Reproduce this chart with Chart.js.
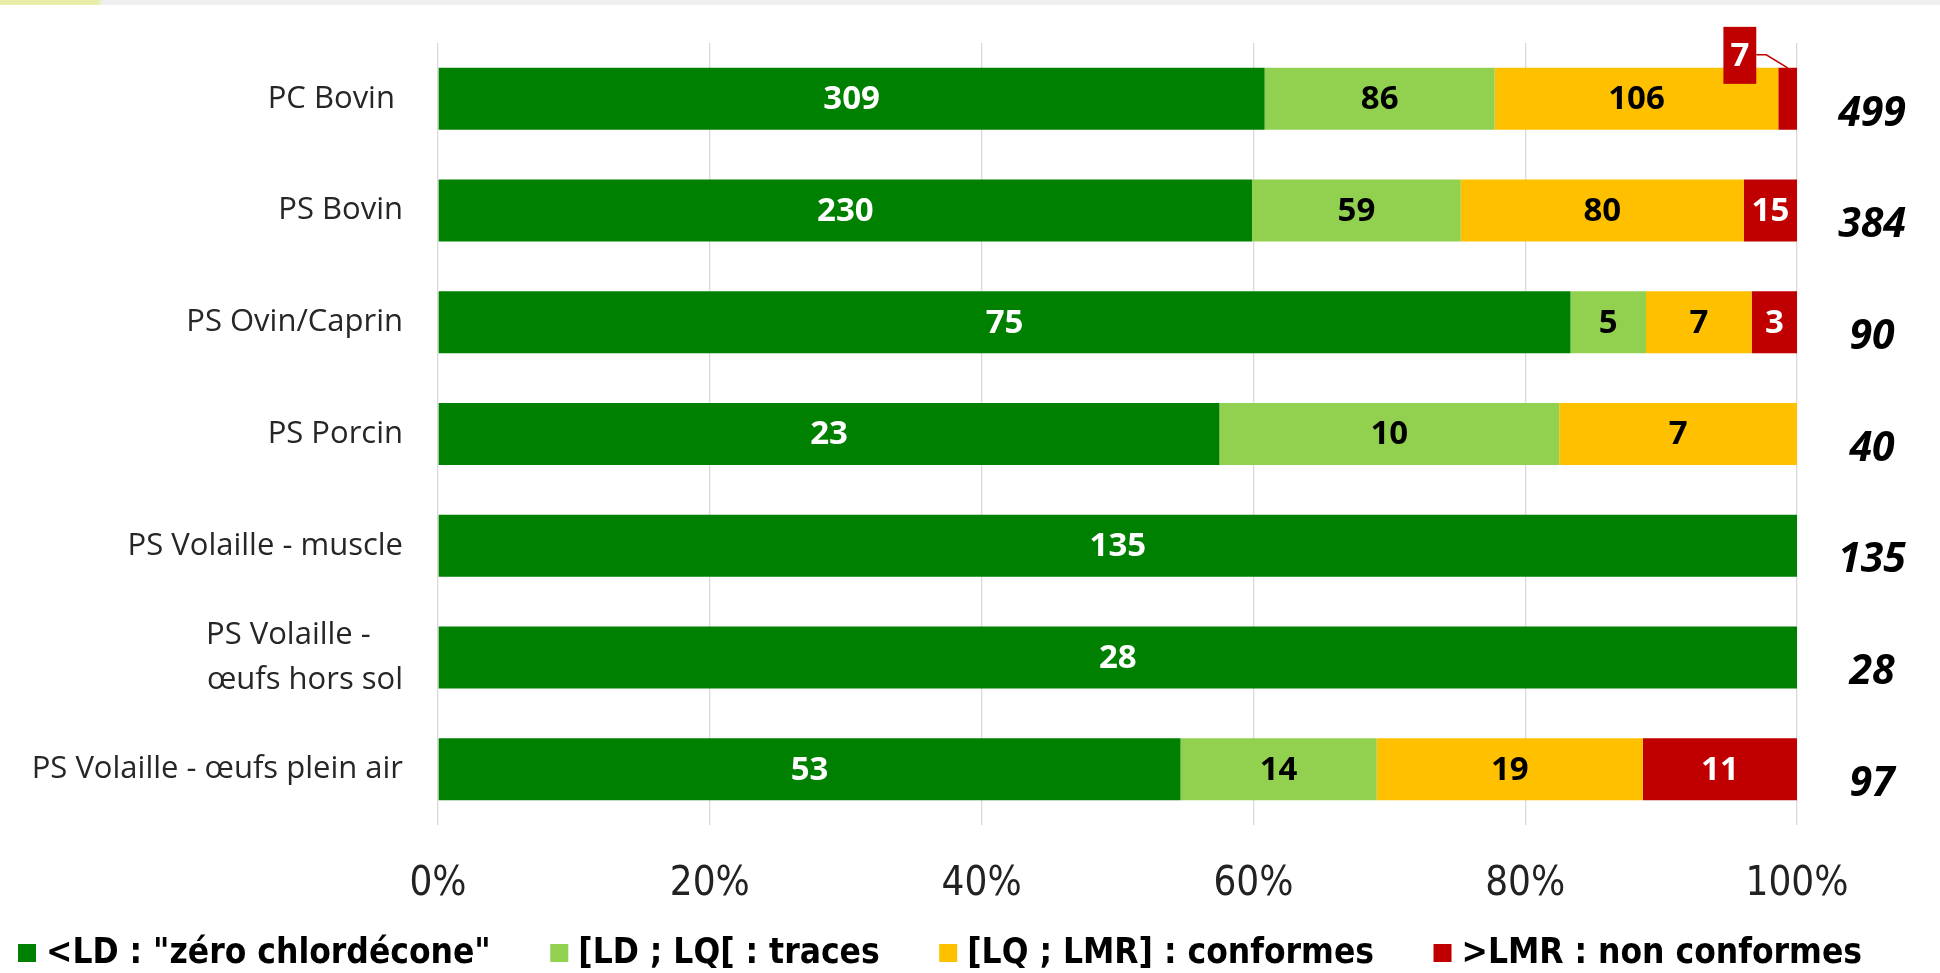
<!DOCTYPE html>
<html>
<head>
<meta charset="utf-8">
<script src="https://cdn.jsdelivr.net/npm/chart.js@4.4.1/dist/chart.umd.min.js"></script>
<style>
  html, body { margin: 0; padding: 0; background: #fff; overflow: hidden; }
  #wrap { position: absolute; left: 0; top: 0; width: 1940px; height: 973px; }
  #band { position: absolute; left: 0; top: 0; width: 1940px; height: 5px;
          background: linear-gradient(100deg, #e8eda9 0, #e8eda9 96px, #efefef 102px, #efefef 100%); }
</style>
</head>
<body>
<div id="wrap"><canvas id="chart" width="1940" height="973"></canvas></div>
<div id="band"></div>
<script>
const categories = [
  "PC Bovin ",
  "PS Bovin",
  "PS Ovin/Caprin",
  "PS Porcin",
  "PS Volaille - muscle",
  ["PS Volaille -    ", "œufs hors sol"],
  "PS Volaille - œufs plein air"
];
const seriesNames = ['<LD : "zéro chlordécone"', "[LD ; LQ[ : traces", "[LQ ; LMR] : conformes", ">LMR : non conformes"];
const zeroLD = [309, 230, 75, 23, 135, 28, 53];
const traces = [86, 59, 5, 10, 0, 0, 14];
const conformes = [106, 80, 7, 7, 0, 0, 19];
const nonConformes = [7, 15, 3, 0, 0, 0, 11];
const totals = [499, 384, 90, 40, 135, 28, 97];
const xTicks = [0, 20, 40, 60, 80, 100];

const colors = ["#008000", "#92d050", "#ffc000", "#c00000"];
const labelColors = ["#fff", "#000", "#000", "#fff"];
const counts = [zeroLD, traces, conformes, nonConformes];

// share of each segment in its row (100% stacked bars)
function shares(series) {
  return series.map((v, j) => {
    const sum = counts.reduce((s, c) => s + c[j], 0);
    return v / sum * 100;
  });
}

const segmentLabels = {
  id: "segmentLabels",
  afterDatasetsDraw(chart) {
    const ctx = chart.ctx;
    ctx.save();
    ctx.font = "bold 33px 'Open Sans', sans-serif";
    ctx.textAlign = "center";
    ctx.textBaseline = "middle";
    chart.data.datasets.forEach((ds, i) => {
      const meta = chart.getDatasetMeta(i);
      meta.data.forEach((bar, j) => {
        const n = counts[i][j];
        if (!n) return;
        const p = bar.getProps(["x", "base", "y", "height"], true);
        const w = Math.abs(p.x - p.base);
        const text = String(n);
        const tw = ctx.measureText(text).width;
        if (tw + 8 < w) {
          ctx.fillStyle = labelColors[i];
          ctx.fillText(text, (p.x + p.base) / 2, p.y + 1);
        } else {
          // callout above the thin segment
          const top = p.y - p.height / 2;
          const bw = tw + 14, bh = 57;
          const right = Math.min(p.x, p.base) - 22;
          const bTop = top + 16 - bh;
          ctx.fillStyle = colors[i];
          ctx.fillRect(right - bw, bTop, bw, bh);
          ctx.strokeStyle = colors[i];
          ctx.lineWidth = 1.5;
          ctx.beginPath();
          ctx.moveTo(right, bTop + 28);
          ctx.lineTo(right + 10, bTop + 28);
          ctx.lineTo((p.x + p.base) / 2, top);
          ctx.stroke();
          ctx.fillStyle = labelColors[i];
          ctx.fillText(text, right - bw / 2, bTop + bh / 2 + 1);
        }
      });
    });

    // totals on the right
    ctx.font = "italic bold 41px 'Open Sans', sans-serif";
    ctx.fillStyle = "#000";
    const ys = chart.scales.y;
    totals.forEach((t, j) => {
      ctx.fillText(String(t), chart.chartArea.right + 75, ys.getPixelForValue(j) + 15);
    });

    // legend
    ctx.font = "bold 35px 'Liberation Sans Narrow', 'DejaVu Sans Condensed', sans-serif";
    ctx.textAlign = "left";
    const widths = seriesNames.map(s => ctx.measureText(s).width);
    const start = 18, end = 1862, box = 18, gapText = 10;
    const used = widths.reduce((s, w) => s + w + box + gapText, 0);
    const gap = (end - start - used) / (seriesNames.length - 1);
    let x = start;
    const ly = 953;
    seriesNames.forEach((s, i) => {
      ctx.fillStyle = colors[i];
      ctx.fillRect(x, ly - box / 2, box, box);
      ctx.fillStyle = "#000";
      ctx.fillText(s, x + box + gapText, ly + 1);
      x += box + gapText + widths[i] + gap;
    });
    ctx.restore();
  }
};

new Chart(document.getElementById("chart"), {
  type: "bar",
  data: {
    labels: categories,
    datasets: counts.map((c, i) => ({
      label: seriesNames[i],
      data: shares(c),
      backgroundColor: colors[i],
      borderWidth: 0,
      categoryPercentage: 0.555,
      barPercentage: 1
    }))
  },
  options: {
    indexAxis: "y",
    responsive: false,
    animation: false,
    layout: { padding: { top: 43, right: 143, left: 0, bottom: 48 } },
    plugins: { legend: { display: false }, tooltip: { enabled: false } },
    scales: {
      x: {
        stacked: true,
        min: 0,
        max: 100,
        afterBuildTicks: s => { s.ticks = xTicks.map(v => ({ value: v })); },
        afterFit: s => { s.height = 100; },
        grid: { color: "#d9d9d9", lineWidth: 1.3, drawTicks: false },
        border: { display: false },
        ticks: {
          padding: 36,
          color: "#222",
          font: { family: "'Liberation Sans Narrow', 'DejaVu Sans Condensed', sans-serif", size: 40 },
          callback: v => v + "%"
        }
      },
      y: {
        stacked: true,
        afterFit: s => { s.width = 438; s.paddingTop = 0; s.paddingBottom = 0; },
        grid: { display: false },
        border: { display: false },
        ticks: {
          padding: 27,
          color: "#262626",
          font: { family: "'Open Sans', sans-serif", size: 31, lineHeight: 1.45 }
        }
      }
    }
  },
  plugins: [segmentLabels]
});
</script>
</body>
</html>
